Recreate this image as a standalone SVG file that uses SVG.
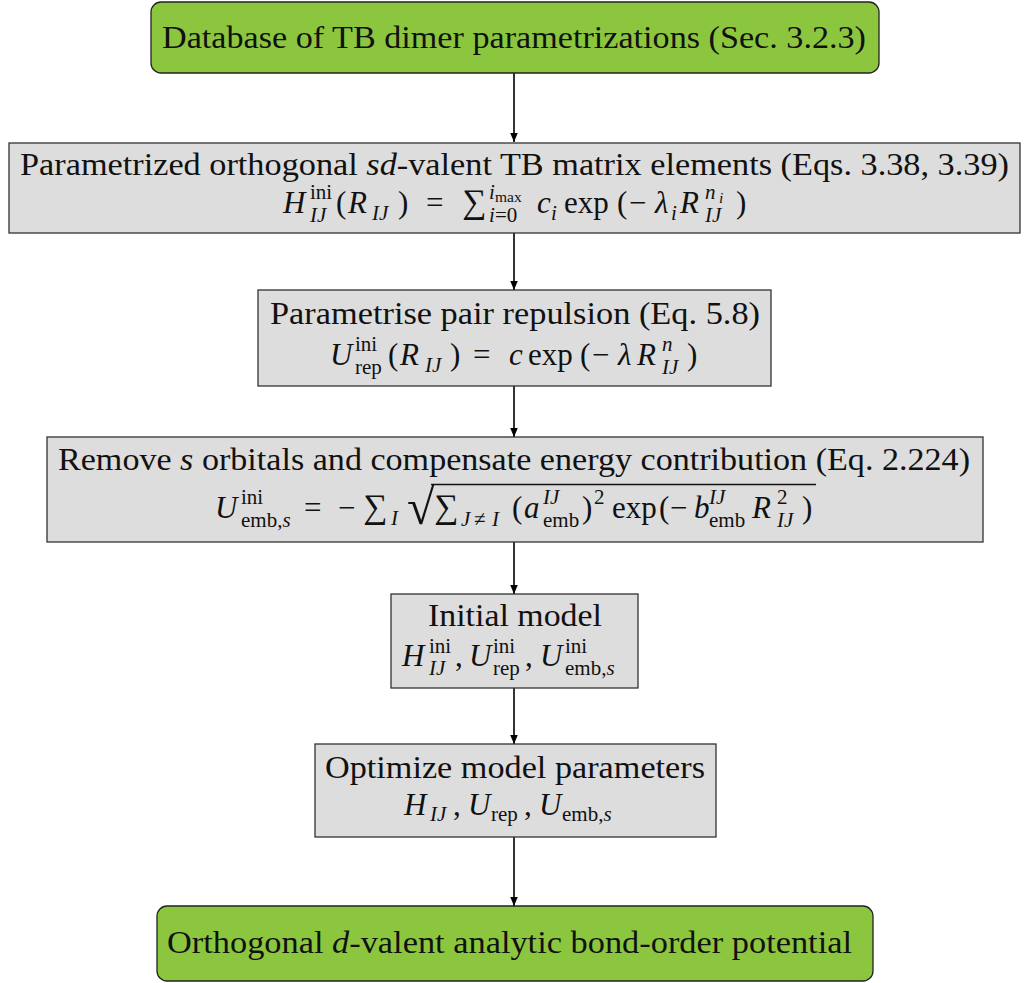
<svg xmlns="http://www.w3.org/2000/svg" width="1024" height="983" viewBox="0 0 1024 983">
  <defs>
    <marker id="arrow" viewBox="0 0 10 10" refX="10" refY="5" markerWidth="9" markerHeight="9" markerUnits="userSpaceOnUse" orient="auto">
      <path d="M0,0.8 L10,5 L0,9.2 Z" fill="#000"/>
    </marker>
    <style>
      .step { fill: #dddddd; stroke: #333333; stroke-width: 1.3; }
      .term { fill: #8cc63f; stroke: #222222; stroke-width: 1.3; }
      .conn { stroke: #000000; stroke-width: 1.6; fill: none; marker-end: url(#arrow); }
      text { font-family: 'Liberation Serif', 'DejaVu Serif', serif; font-size: 31px; fill: #111111; }
      .i { font-style: italic; }
      .s { font-size: 21px; }
      .ss { font-size: 15.5px; }
      .op { font-size: 34px; }
      .rad { font-size: 50px; }
      .vinc { stroke: #111111; stroke-width: 1.3; }
    </style>
  </defs>

  <!-- connectors -->
  <g id="connectors">
    <line class="conn" x1="514" y1="73" x2="514" y2="142"/>
    <line class="conn" x1="514" y1="233" x2="514" y2="290"/>
    <line class="conn" x1="514" y1="386" x2="514" y2="437"/>
    <line class="conn" x1="514" y1="542" x2="514" y2="594"/>
    <line class="conn" x1="514" y1="688" x2="514" y2="744"/>
    <line class="conn" x1="514" y1="837" x2="514" y2="906"/>
  </g>

  <!-- start: database -->
  <g id="database">
    <rect class="term" x="151" y="2" width="728" height="71" rx="10"/>
    <text x="162" y="48" textLength="704" lengthAdjust="spacingAndGlyphs">Database of TB dimer parametrizations (Sec. 3.2.3)</text>
  </g>

  <!-- TB matrix elements -->
  <g id="matrix-elements">
    <rect class="step" x="9" y="143" width="1011" height="90"/>
    <text x="20" y="175" textLength="989" lengthAdjust="spacingAndGlyphs">Parametrized orthogonal <tspan class="i">sd</tspan>-valent TB matrix elements (Eqs. 3.38, 3.39)</text>
    <text y="213"><tspan class="i" x="283">H</tspan><tspan class="s" x="310" y="199">ini</tspan><tspan class="s i" x="310" y="222">IJ</tspan><tspan x="336" y="213">(</tspan><tspan class="i" x="348">R</tspan><tspan class="s i" x="372" y="220">IJ</tspan><tspan x="398" y="213">)</tspan><tspan x="426">=</tspan><tspan class="op" x="462">∑</tspan><tspan class="s i" x="489" y="199">i</tspan><tspan class="ss" x="495" y="202">max</tspan><tspan class="s i" x="489" y="222">i</tspan><tspan class="s" x="495">=0</tspan><tspan class="i" x="537" y="213">c</tspan><tspan class="s i" x="551" y="220">i</tspan><tspan x="564" y="213">exp</tspan><tspan x="617">(</tspan><tspan x="629">−</tspan><tspan class="i" x="655">λ</tspan><tspan class="s i" x="671" y="220">i</tspan><tspan class="i" x="680" y="213">R</tspan><tspan class="s i" x="705" y="199">n</tspan><tspan class="ss i" x="719" y="203">i</tspan><tspan class="s i" x="705" y="222">IJ</tspan><tspan x="736" y="213">)</tspan></text>
  </g>

  <!-- pair repulsion -->
  <g id="pair-repulsion">
    <rect class="step" x="258" y="290" width="513" height="96"/>
    <text x="270" y="324" textLength="490" lengthAdjust="spacingAndGlyphs">Parametrise pair repulsion (Eq. 5.8)</text>
    <text y="365"><tspan class="i" x="330">U</tspan><tspan class="s" x="355" y="351">ini</tspan><tspan class="s" x="355" y="374">rep</tspan><tspan x="388" y="365">(</tspan><tspan class="i" x="400">R</tspan><tspan class="s i" x="425" y="372">IJ</tspan><tspan x="450" y="365">)</tspan><tspan x="473">=</tspan><tspan class="i" x="509">c</tspan><tspan x="528">exp</tspan><tspan x="580">(</tspan><tspan x="592">−</tspan><tspan class="i" x="618">λ</tspan><tspan class="i" x="637">R</tspan><tspan class="s i" x="662" y="351">n</tspan><tspan class="s i" x="662" y="374">IJ</tspan><tspan x="687" y="365">)</tspan></text>
  </g>

  <!-- embedding term -->
  <g id="embedding">
    <rect class="step" x="47" y="437" width="936" height="105"/>
    <text x="58" y="470" textLength="912" lengthAdjust="spacingAndGlyphs">Remove <tspan class="i">s</tspan> orbitals and compensate energy contribution (Eq. 2.224)</text>
    <text y="518"><tspan class="i" x="215">U</tspan><tspan class="s" x="241" y="504">ini</tspan><tspan class="s" x="241" y="527">emb,</tspan><tspan class="s i">s</tspan><tspan x="304" y="518">=</tspan><tspan x="338">−</tspan><tspan class="op" x="363">∑</tspan><tspan class="s i" x="391" y="525">I</tspan><tspan class="op" x="434" y="518">∑</tspan><tspan class="s i" x="461" y="526">J</tspan><tspan class="s" x="474">≠</tspan><tspan class="s i" x="492">I</tspan><tspan x="512" y="518">(</tspan><tspan class="i" x="524">a</tspan><tspan class="s i" x="543" y="504">IJ</tspan><tspan class="s" x="543" y="527">emb</tspan><tspan x="582" y="518">)</tspan><tspan class="s" x="594" y="504">2</tspan><tspan x="612" y="518">exp</tspan><tspan x="659">(</tspan><tspan x="670">−</tspan><tspan class="i" x="694">b</tspan><tspan class="s i" x="709" y="504">IJ</tspan><tspan class="s" x="709" y="527">emb</tspan><tspan class="i" x="752" y="518">R</tspan><tspan class="s" x="777" y="504">2</tspan><tspan class="s i" x="777" y="527">IJ</tspan><tspan x="802" y="518">)</tspan></text>
    <text class="rad" x="407" y="524">√</text>
    <line class="vinc" x1="431" y1="484.5" x2="816" y2="484.5"/>
  </g>

  <!-- initial model -->
  <g id="initial-model">
    <rect class="step" x="391" y="594" width="247" height="94"/>
    <text x="428" y="626" textLength="174" lengthAdjust="spacingAndGlyphs">Initial model</text>
    <text y="666"><tspan class="i" x="402">H</tspan><tspan class="s" x="429" y="653">ini</tspan><tspan class="s i" x="429" y="675">IJ</tspan><tspan x="455" y="666">,</tspan><tspan class="i" x="469">U</tspan><tspan class="s" x="493" y="653">ini</tspan><tspan class="s" x="493" y="675">rep</tspan><tspan x="525" y="666">,</tspan><tspan class="i" x="540">U</tspan><tspan class="s" x="565" y="653">ini</tspan><tspan class="s" x="565" y="675">emb,</tspan><tspan class="s i">s</tspan></text>
  </g>

  <!-- optimisation -->
  <g id="optimize">
    <rect class="step" x="315" y="744" width="401" height="93"/>
    <text x="325" y="778" textLength="380" lengthAdjust="spacingAndGlyphs">Optimize model parameters</text>
    <text y="815"><tspan class="i" x="404">H</tspan><tspan class="s i" x="430" y="821">IJ</tspan><tspan x="453" y="815">,</tspan><tspan class="i" x="468">U</tspan><tspan class="s" x="491" y="821">rep</tspan><tspan x="524" y="815">,</tspan><tspan class="i" x="539">U</tspan><tspan class="s" x="562" y="821">emb,</tspan><tspan class="s i">s</tspan></text>
  </g>

  <!-- end: BOP -->
  <g id="bop">
    <rect class="term" x="157" y="906" width="716" height="75" rx="10"/>
    <text x="167" y="953" textLength="685" lengthAdjust="spacingAndGlyphs">Orthogonal <tspan class="i">d</tspan>-valent analytic bond-order potential</text>
  </g>
</svg>
